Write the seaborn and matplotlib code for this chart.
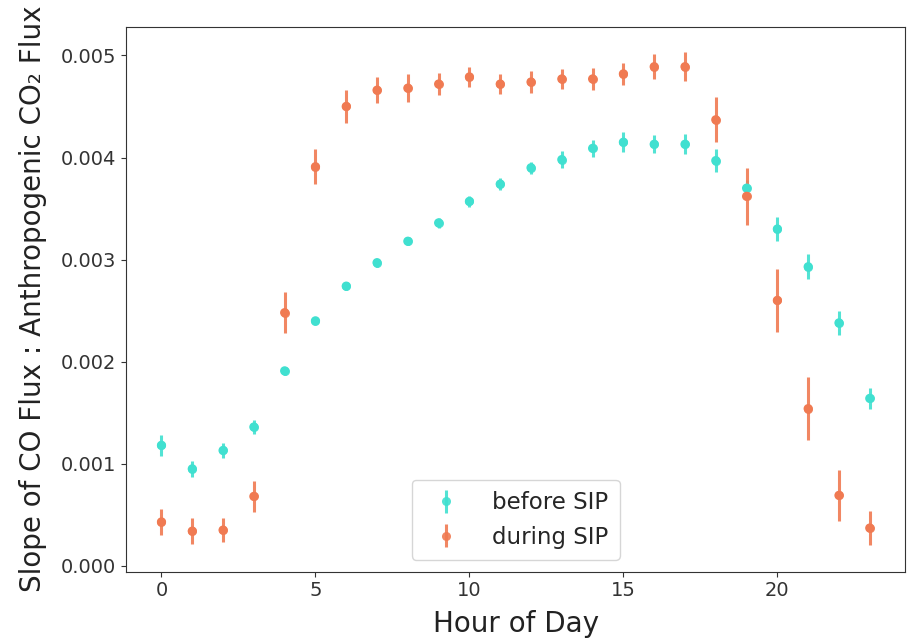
import numpy as np
import pandas as pd
import matplotlib
matplotlib.use("Agg")
import matplotlib.pyplot as plt
import seaborn as sns

hours = list(range(24))

before_sip = [0.00118, 0.00095, 0.00113, 0.00136, 0.00191, 0.00240, 0.00274, 0.00297,
              0.00318, 0.00336, 0.00357, 0.00374, 0.00390, 0.00398, 0.00409, 0.00415,
              0.00413, 0.00413, 0.00397, 0.00370, 0.00330, 0.00293, 0.00238, 0.00164]
before_err = [0.00010, 0.00008, 0.00007, 0.00007, 0.00004, 0.00003, 0.00004, 0.00004,
              0.00004, 0.00005, 0.00005, 0.00006, 0.00006, 0.00008, 0.00008, 0.00010,
              0.00009, 0.00010, 0.00011, 0.00008, 0.00012, 0.00012, 0.00012, 0.00010]

during_sip = [0.00043, 0.00034, 0.00035, 0.00068, 0.00248, 0.00391, 0.00450, 0.00466,
              0.00468, 0.00472, 0.00479, 0.00472, 0.00474, 0.00477, 0.00477, 0.00482,
              0.00489, 0.00489, 0.00437, 0.00362, 0.00260, 0.00154, 0.00069, 0.00037]
during_err = [0.00013, 0.00013, 0.00012, 0.00015, 0.00020, 0.00017, 0.00016, 0.00013,
              0.00014, 0.00011, 0.00010, 0.00010, 0.00011, 0.00010, 0.00011, 0.00011,
              0.00012, 0.00014, 0.00022, 0.00028, 0.00031, 0.00031, 0.00025, 0.00017]

series_names = ["before SIP", "during SIP"]
colors = ["#40E0D0", "#F07A52"]

df = pd.DataFrame({
    "hour": hours * 2,
    "value": before_sip + during_sip,
    "err": before_err + during_err,
    "period": [series_names[0]] * 24 + [series_names[1]] * 24,
})

sns.set_style("ticks")
plt.rcParams['font.family'] = ['DejaVu Sans']

fig = plt.figure(figsize=(9.07, 6.4), dpi=100)
ax = fig.add_axes([0.139, 0.107, 0.859, 0.851])

handles = []
for name, col in zip(series_names, colors):
    sub = df[df["period"] == name]
    h = ax.errorbar(sub["hour"], sub["value"], yerr=sub["err"], fmt="o",
                    color=col, ecolor=col, elinewidth=2.2, markersize=6.5,
                    markeredgewidth=0, alpha=0.9, label=name)
    handles.append(h)

sns.scatterplot(data=df, x="hour", y="value", hue="period", palette=colors,
                s=44, edgecolor="none", ax=ax, legend=False, zorder=3)

ax.set_xlim(-1.15, 24.15)
ax.set_ylim(-0.000056, 0.00528)
ax.set_xticks([0, 5, 10, 15, 20])
ax.set_yticks([0.000, 0.001, 0.002, 0.003, 0.004, 0.005])
ax.set_yticklabels(["0.000", "0.001", "0.002", "0.003", "0.004", "0.005"])
ax.tick_params(labelsize=14, colors="#333333", labelcolor="#333333")
for sp in ax.spines.values():
    sp.set_visible(True)
    sp.set_color("#333333")

ax.set_xlabel("Hour of Day", fontsize=20, color="#222222", labelpad=7)
ax.set_ylabel("Slope of CO Flux : Anthropogenic CO\u2082 Flux", fontsize=20,
              color="#222222", labelpad=10)

ax.legend(handles=handles, labels=series_names, loc="lower center", fontsize=16.5,
          frameon=True, handletextpad=1.0, borderpad=0.5)

fig.savefig("out.png", dpi=100)
